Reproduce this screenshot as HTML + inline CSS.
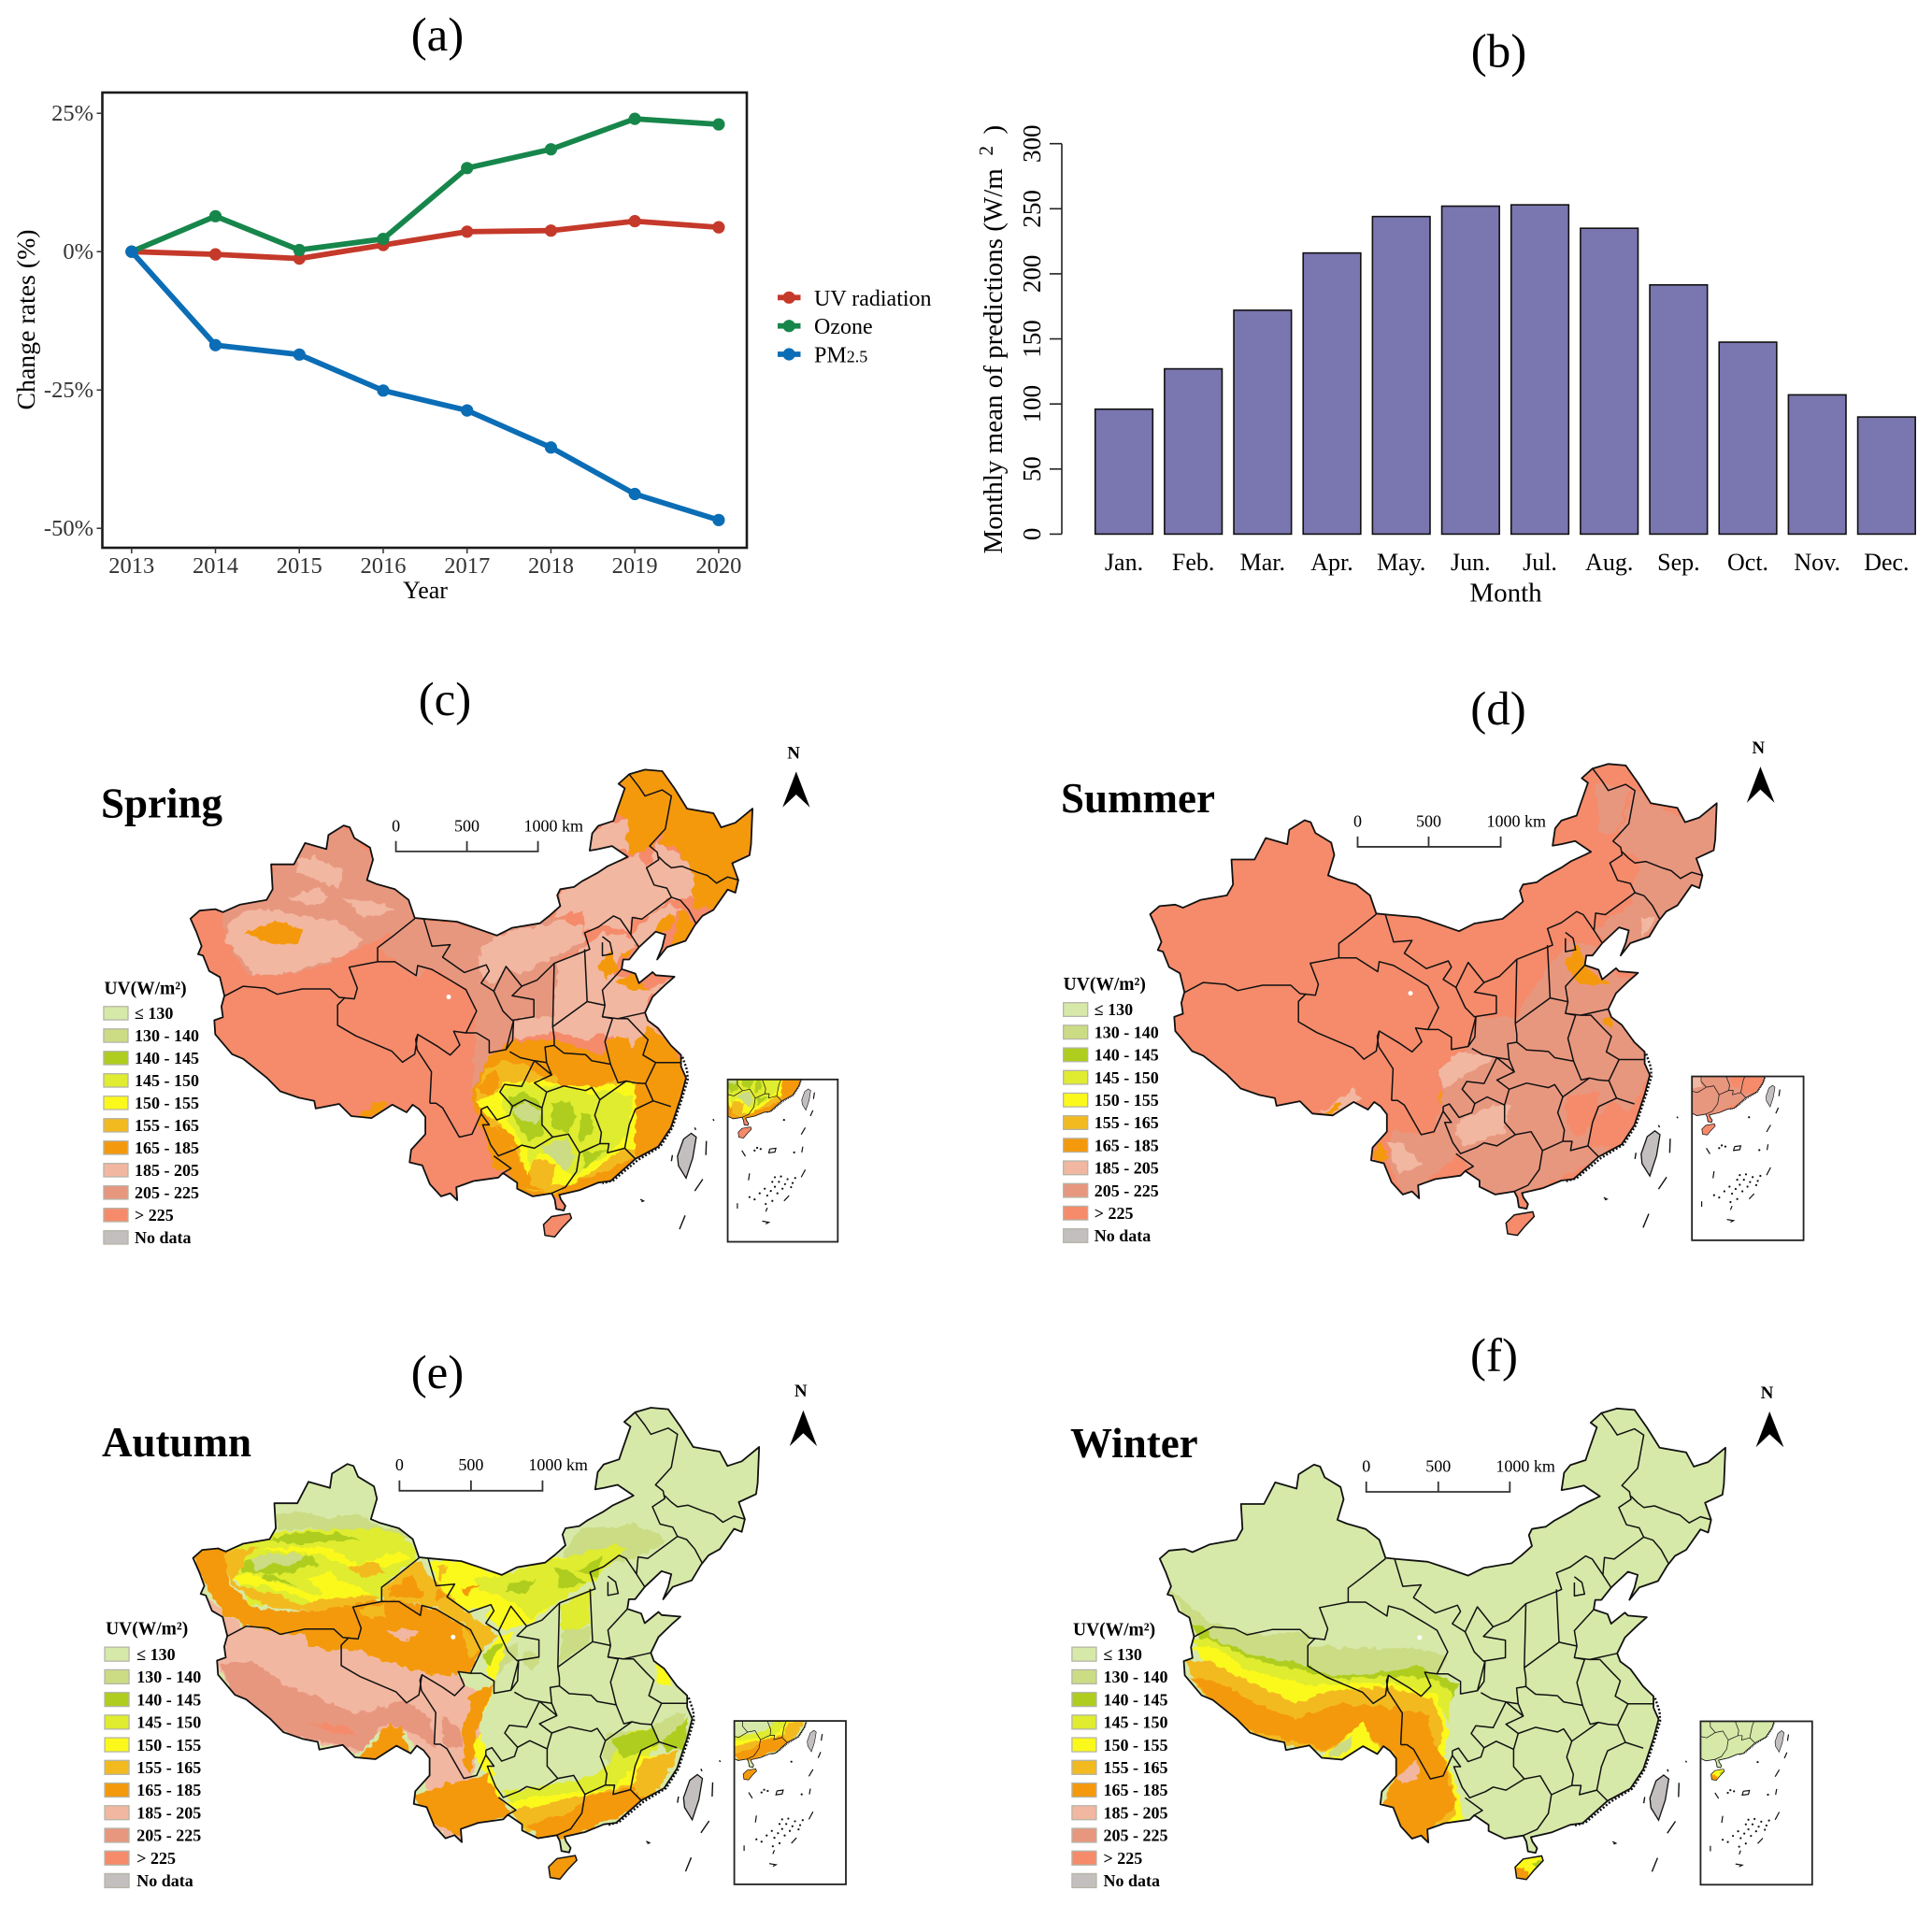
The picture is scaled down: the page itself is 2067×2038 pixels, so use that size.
<!DOCTYPE html>
<html lang="en">
<head>
<meta charset="utf-8">
<title>UV radiation trends and seasonal maps</title>
<style>
html,body{margin:0;padding:0;background:#fff}
svg{display:block}
text{font-family:"Liberation Serif",serif;fill:#000}
</style>
</head>
<body>
<svg id="fig" xmlns="http://www.w3.org/2000/svg" width="2067" height="2038" viewBox="0 0 2067 2038">
  <defs>
    <filter id="rough" x="-4%" y="-4%" width="108%" height="108%" color-interpolation-filters="sRGB">
      <feTurbulence type="fractalNoise" baseFrequency="0.11" numOctaves="2" seed="4" result="n"/>
      <feDisplacementMap in="SourceGraphic" in2="n" scale="9" xChannelSelector="R" yChannelSelector="G"/>
    </filter>
  </defs>
  <rect width="2067" height="2038" fill="#fff"/>

  <text x="468" y="54" font-size="51" text-anchor="middle">(a)</text>
  <text x="1603.5" y="71.5" font-size="51" text-anchor="middle">(b)</text>
  <text x="476" y="765" font-size="51" text-anchor="middle">(c)</text>
  <text x="1603" y="775" font-size="51" text-anchor="middle">(d)</text>
  <text x="468" y="1485" font-size="51" text-anchor="middle">(e)</text>
  <text x="1598.5" y="1467" font-size="51" text-anchor="middle">(f)</text>

  <g id="chart-a">
    <rect x="109.5" y="99" width="689.5" height="487" fill="#fff" stroke="#1a1a1a" stroke-width="2.6"/>
    <text x="455" y="640" font-size="26" text-anchor="middle">Year</text>
    <text transform="translate(37,342) rotate(-90)" font-size="27" text-anchor="middle" textLength="193" lengthAdjust="spacingAndGlyphs">Change rates (%)</text>
    <g>
      <text x="871" y="327" font-size="24">UV radiation</text>
      <text x="871" y="357" font-size="24">Ozone</text>
      <text x="871" y="387.5" font-size="24">PM<tspan font-size="18">2.5</tspan></text>
    </g>
  </g>

  <g id="chart-b">
    <text x="1611" y="643.5" font-size="29" text-anchor="middle">Month</text>
    <text transform="translate(1072,592.5) rotate(-90)" font-size="29">Monthly mean of predictions (W/m<tspan x="426" dy="-10" font-size="21">2</tspan><tspan x="449" dy="10">)</tspan></text>
  </g>

  <text x="108" y="874.5" font-size="45" font-weight="bold">Spring</text>
  <text x="1135" y="869" font-size="45" font-weight="bold">Summer</text>
  <text x="109" y="1558" font-size="45" font-weight="bold">Autumn</text>
  <text x="1145" y="1559" font-size="45" font-weight="bold">Winter</text>

  <g id="maps"></g>
</svg>

<script>
/* ---------- chart (a) data ---------- */
const years = [2013, 2014, 2015, 2016, 2017, 2018, 2019, 2020];
const uvRates = [0, -0.5, -1.25, 1.2, 3.6, 3.8, 5.5, 4.4];
const ozoneRates = [0, 6.4, 0.3, 2.3, 15.1, 18.5, 24.0, 23.0];
const pmRates = [0, -16.9, -18.6, -25.1, -28.7, -35.4, -43.8, -48.5];
const rateTicks = [25, 0, -25, -50];
const rateTickLabels = ['25%', '0%', '-25%', '-50%'];

/* ---------- chart (b) data ---------- */
const months = ['Jan.', 'Feb.', 'Mar.', 'Apr.', 'May.', 'Jun.', 'Jul.', 'Aug.', 'Sep.', 'Oct.', 'Nov.', 'Dec.'];
const monthlyMeans = [96, 127, 172, 216, 244, 252, 253, 235, 191.5, 147.5, 107, 90];
const meanTicks = [0, 50, 100, 150, 200, 250, 300];

/* ---------- map legend ---------- */
const legendLabels = ['≤ 130', '130 - 140', '140 - 145', '145 - 150', '150 - 155', '155 - 165', '165 - 185', '185 - 205', '205 - 225', '> 225', 'No data'];
const legendColors = ['#d7e9a9', '#cbdc84', '#aecd1e', '#dfec30', '#fbf91c', '#f3ba20', '#f4990c', '#f2b7a1', '#e8977f', '#f58b6b', '#c4bfbf'];

const NS = 'http://www.w3.org/2000/svg';
function mk(tag, attrs, parent) {
  const e = document.createElementNS(NS, tag);
  for (const k in attrs) e.setAttribute(k, attrs[k]);
  if (parent) parent.appendChild(e);
  return e;
}

/* ---------- draw chart (a) ---------- */
const chartA = document.getElementById('chart-a');
const xA = i => 140.8 + i * 89.73;
const yA = v => 269.2 - v * 5.92;
const seriesA = [
  { key: 'uv', values: uvRates, color: '#c5392a', legendY: 318.3 },
  { key: 'ozone', values: ozoneRates, color: '#17864b', legendY: 348.7 },
  { key: 'pm25', values: pmRates, color: '#0b6db5', legendY: 379 }
];
rateTicks.forEach((t, i) => {
  const tick = mk('line', { x1: 103.5, x2: 109.5, y1: yA(t), y2: yA(t), stroke: '#333', 'stroke-width': 1.5 }, chartA);
  
  
  const lab = mk('text', { x: 100, y: yA(t) + 8, 'font-size': 24.5, 'text-anchor': 'end', style: 'fill:#333' }, chartA);
  lab.textContent = rateTickLabels[i];
  
  
});
years.forEach((yr, i) => {
  const tick = mk('line', { x1: xA(i), x2: xA(i), y1: 586, y2: 592, stroke: '#333', 'stroke-width': 1.5 }, chartA);
  
  
  const lab = mk('text', { x: xA(i), y: 613, 'font-size': 24.5, 'text-anchor': 'middle', style: 'fill:#333' }, chartA);
  lab.textContent = yr;
  
  
});
seriesA.forEach(s => {
  const pts = s.values.map((v, i) => xA(i) + ',' + yA(v)).join(' ');
  const line = mk('polyline', { points: pts, fill: 'none', stroke: s.color, 'stroke-width': 5.8, 'stroke-linejoin': 'round' }, chartA);
  
  
  s.values.forEach((v, i) => {
    const dot = mk('circle', { cx: xA(i), cy: yA(v), r: 6.6, fill: s.color }, chartA);
    
    
  });
  const key = mk('line', { x1: 832, x2: 856.5, y1: s.legendY, y2: s.legendY, stroke: s.color, 'stroke-width': 5.8 }, chartA);
  
  
  const keyDot = mk('circle', { cx: 844.2, cy: s.legendY, r: 6.6, fill: s.color }, chartA);
  
  
});

/* ---------- draw chart (b) ---------- */
const chartB = document.getElementById('chart-b');
const xB = i => 1171.7 + i * 74.17;
const yB = v => 571.4 - v * (417.7 / 300);
const barWidth = 61.6;
const axisB = mk('line', { x1: 1136, x2: 1136, y1: yB(0), y2: yB(300), stroke: '#222', 'stroke-width': 1.6 }, chartB);


meanTicks.forEach(t => {
  const tick = mk('line', { x1: 1123, x2: 1136, y1: yB(t), y2: yB(t), stroke: '#222', 'stroke-width': 1.6 }, chartB);
  
  
  const lab = mk('text', { transform: 'translate(1113,' + yB(t) + ') rotate(-90)', 'font-size': 27, 'text-anchor': 'middle' }, chartB);
  lab.textContent = t;
  
  
});
months.forEach((m, i) => {
  const bar = mk('rect', { x: xB(i), y: yB(monthlyMeans[i]), width: barWidth, height: yB(0) - yB(monthlyMeans[i]), fill: '#7a76af', stroke: '#111', 'stroke-width': 1.6 }, chartB);
  
  
  const lab = mk('text', { x: xB(i) + barWidth / 2, y: 610, 'font-size': 26, 'text-anchor': 'middle' }, chartB);
  lab.textContent = m;
  
  
});

/* ---------- base map geometry ---------- */
const CHINA = '530,399 542,404 551,432 582,457 588,489 576,542 594,552 631,566 658,594 670,641 692,644 753,651 789,667 832,687 862,667 917,655 936,635 957,610 951,582 957,566 984,560 1000,545 1032,522 1050,506 1078,489 1090,481 1059,453 1032,461 1015,465 1020,420 1032,400 1062,387 1069,359 1084,302 1072,290 1093,265 1124,253 1158,257 1182,302 1207,355 1259,367 1274,404 1302,392 1336,355 1333,449 1330,477 1296,498 1308,542 1302,575 1287,567 1259,620 1237,636 1222,661 1204,701 1167,718 1148,750 1158,718 1164,685 1145,677 1112,718 1093,750 1081,750 1078,775 1105,787 1112,812 1139,783 1145,791 1182,795 1164,816 1139,848 1124,889 1130,910 1150,930 1175,975 1195,1000 1195,1030 1205,1060 1195,1110 1175,1190 1150,1240 1105,1272 1056,1330 1032,1334 995,1354 955,1366 958,1378 967,1395 964,1407 949,1403 946,1378 940,1362 903,1370 872,1350 872,1334 844,1309 835,1321 786,1330 752,1346 754,1380 740,1362 722,1370 700,1338 685,1289 660,1281 663,1248 691,1207 691,1162 679,1142 666,1130 654,1150 626,1130 585,1165 545,1160 521,1128 475,1140 472,1120 442,1112 405,1095 378,1059 332,1010 310,998 277,946 275,909 292,901 289,873 295,845 286,796 265,780 253,740 243,736 250,715 240,679 228,643 246,622 277,618 292,626 326,606 378,594 390,566 387,501 432,501 454,445 496,461 500,424';
const HAINAN = '924,1444 940,1423 976,1415 979,1427 961,1452 946,1476 927,1472';
const TAIWAN = '1215,1205 1225,1215 1218,1270 1205,1322 1190,1290 1188,1265 1200,1220';
const BORDERS = [
  '295,846 332,820 375,825 399,841 448,827 503,827 521,849 551,853 557,825 541,770 597,756 597,719 625,691 670,643',
  '688,644 704,715 740,711 725,744 768,784 811,764 817,780 801,812 826,833 850,768 881,820 911,804 945,760 1015,723 1005,680 1032,665 1062,636 1075,644 1096,685',
  '1096,685 1112,718',
  '1096,685 1099,640 1118,644 1176,587 1167,563 1142,555 1127,510 1151,489 1148,469 1133,453 1164,408 1176,322 1158,306 1124,322 1112,298 1093,265',
  '1151,481 1164,498 1176,510 1197,506 1228,522 1247,530 1265,550 1287,534 1308,542',
  '1176,587 1194,595 1210,620 1225,657',
  '597,756 631,756 673,792 676,766 704,776 740,804 771,829 792,885 771,942 747,938 759,974 740,1000 716,978 676,946 670,998 646,1019 625,990 554,950 518,922 518,869 533,849',
  '676,946 672,960 675,987 703,1044 700,1126',
  '771,942 792,942 817,962 817,994 850,986 865,909',
  '700,1126 712,1126 725,1138 758,1215 783,1207 801,1154 801,1142',
  '801,1154 817,1183 804,1183 820,1236 835,1264 866,1248 881,1236 906,1244 942,1215 973,1207 995,1256 989,1305 967,1346 940,1362',
  '826,1264 860,1297 844,1309',
  '801,1142 813,1135 832,1170 857,1158 863,1134 838,1097 847,1077 881,1082 906,1015 878,1007 857,991',
  '863,1134 887,1117 921,1138 930,1097 906,1073 940,1052 906,1015',
  '921,1138 921,1183 942,1215',
  '930,1097 964,1081 1007,1093 1019,1085 1035,1117 1025,1158 1038,1203 1035,1232 995,1256',
  '1035,1232 1053,1232 1050,1256 1084,1244 1105,1272',
  '1084,1244 1093,1183 1105,1142 1140,1120',
  '1035,1117 1087,1068 1105,1073 1125,1075',
  '940,1052 930,1020 927,979 945,975 964,995 1007,999 1019,1015 1056,1024 1071,1073 1087,1068',
  '906,1015 930,1020',
  '945,760 942,926 945,954 945,975',
  '826,833 844,885 862,909 865,909 863,962 850,986',
  '881,820 862,845 905,855 905,900 862,909',
  '1005,723 1010,860 942,926',
  '1010,860 1045,870 1040,900 1060,905 1045,965 1056,1024',
  '1040,900 1070,905 1090,905 1115,940 1130,960 1120,1000 1145,1020 1125,1075',
  '1070,905 1124,889',
  '1045,870 1040,830 1078,775',
  '1040,690 1055,705 1060,735 1040,740 1040,705',
  '1145,1020 1195,1020',
  '1125,1075 1140,1120 1175,1135'
];
const SEA_DASHES = ['1245,1225 1244,1262', '1238,1325 1222,1356', '1203,1420 1192,1456', '1178,1262 1176,1278', '1222,1190 1224,1196', '1258,1168 1260,1172', '1115,1378 1121,1382 1117,1384'];
const COAST_ISLES = '1198,1005 1207,1040 1208,1065 1198,1110 1178,1190 1154,1240 1110,1275 1062,1328 1040,1336';
const INSET_DASHES = ['1458,1098 1456,1115', '1455,1145 1450,1160', '1440,1190 1432,1208', '1435,1240 1433,1255', '1315,1250 1322,1265', '1330,1310 1328,1328', '1440,1300 1432,1320', '1408,1368 1398,1382', '1306,1388 1306,1402', '1365,1400 1362,1410', '1355,1435 1368,1438 1362,1442', '1370,1246 1382,1244 1380,1254 1368,1256 1370,1246'];
const INSET_DOTS = ['1345,1243', '1352,1246', '1340,1250', '1398,1170', '1418,1255', '1380,1320', '1392,1318', '1405,1325', '1420,1322', '1375,1332', '1388,1332', '1400,1338', '1415,1335', '1380,1345', '1395,1350', '1412,1346', '1360,1350', '1372,1356', '1350,1362', '1365,1368', '1385,1362', '1330,1372', '1340,1378', '1375,1382', '1362,1390'];

/* ---------- per-panel layout and coloured climate zones (legend index, polygon, optional crop origin) ---------- */
const CROP_SC = [420, 1080];
const CROP_NE = [640, 810];
const CROP_NW = [200, 1560];
const PANELS = [
  { id: 'spring', ox: 80, oy: 720, sy: 2.447, L: 204.8, T: 823.4, ax: 1, ay: 1, base: 9, hainan: 9,
    legend: { x: 57, y0: 873, h: 35, dy: 58.7, tx: 118, tyX: 58, ty: 840 },
    bar: { x: [633, 773, 913], y: 467, top: 440, label: 415 },
    north: { x: 1417, y: 224, a: [1422, 258, 1395, 352, 1422, 318, 1449, 352] },
    inset: [1287, 1064, 1504, 1489], insetHainan: [1320, 1205],
    zones: [
      [8, '290,600 380,585 390,495 430,495 455,440 530,395 590,490 585,545 650,570 672,640 790,665 830,690 900,650 950,640 1000,680 1005,720 950,750 945,900 860,960 830,990 790,960 790,870 770,830 730,790 690,770 680,800 640,765 600,720 625,680 560,720 480,770 400,790 340,790 300,700 290,650'],
      [8, '790,960 830,990 800,1050 780,1100 775,1130 785,1060'],
      [7, '300,660 340,620 400,620 470,640 520,650 570,700 530,740 470,765 400,790 350,790 330,740 300,710'],
      [7, '440,490 470,480 530,520 520,560 470,540 440,520'],
      [7, '420,590 480,560 500,590 470,610'],
      [7, '530,590 600,600 630,620 570,640'],
      [7, '800,720 850,680 960,650 1000,660 1005,700 950,740 880,790 850,770 820,820 800,790'],
      [7, '950,640 960,570 1000,545 1040,505 1090,488 1110,470 1130,510 1170,560 1175,590 1130,640 1100,640 1090,680 1040,660 1005,680 1000,620'],
      [7, '1015,465 1020,420 1050,390 1095,385 1095,470 1060,455'],
      [7, '1130,510 1150,440 1180,470 1225,510 1225,590 1200,590 1175,590 1170,560'],
      [7, '1005,720 1040,680 1100,690 1110,720 1075,740 1060,790 1090,800 1130,850 1130,900 1160,950 1140,970 1100,980 1040,940 1010,960 950,940 870,960 865,910 905,900 945,900 950,760'],
      [7, '1100,680 1130,640 1175,600 1195,620 1160,680 1120,715 1095,700'],
      [7, '1040,830 1075,810 1130,830 1185,795 1130,850 1125,890 1070,905 1040,890'],
      [6, '65,85 100,55 150,40 205,45 285,165 370,180 395,225 495,165 490,300 430,340 450,395 440,435 370,490 340,480 310,490 300,430 310,370 270,320 240,290 200,280 215,240 170,290 110,310 90,280 100,220 60,175 85,100', CROP_NE],
      [6, '190,530 230,500 245,510 240,540 210,560 180,560', CROP_NE],
      [6, '250,530 270,490 310,530 280,590 230,610 250,570', CROP_NE],
      [6, '70,625 110,620 100,640 80,650', CROP_NE],
      [6, '0,670 40,620 60,680 30,710', CROP_NE],
      [6, '55,720 120,695 130,730 170,750 100,740', CROP_NE],
      [6, '820,1000 860,965 950,960 1040,1000 1050,960 1090,950 1100,985 1130,920 1165,960 1200,1020 1210,1060 1200,1110 1180,1190 1150,1240 1115,1280 1060,1325 1000,1360 950,1370 880,1370 865,1340 850,1300 825,1300 815,1230 790,1150 780,1100 800,1050'],
      [6, '335,680 400,650 450,670 440,710 380,710'],
      [6, '555,1165 590,1125 620,1125 590,1160 565,1170'],
      [5, '265,260 300,190 350,165 440,180 470,215 520,210 530,240 660,250 700,230 780,230 780,470 680,520 600,550 520,590 450,590 420,570 405,470 330,380 290,330', CROP_SC],
      [6, '270,250 330,190 345,250 310,280', CROP_SC],
      [6, '330,370 400,390 410,450 360,430', CROP_SC],
      [6, '400,490 440,490 450,560 500,590 420,570', CROP_SC],
      [4, '270,290 340,270 355,235 470,225 530,240 660,250 690,240 780,240 780,440 700,470 640,520 560,570 510,560 530,500 450,480 440,540 410,480 410,440 350,370 300,340', CROP_SC],
      [3, '350,260 430,230 480,250 530,245 640,270 700,260 770,280 760,400 690,460 620,510 570,540 540,470 470,460 440,500 430,450 370,360 350,300', CROP_SC],
      [2, '370,280 430,265 470,300 485,395 440,420 400,370', CROP_SC],
      [2, '510,300 570,290 590,350 560,400 510,370', CROP_SC],
      [2, '600,330 640,340 640,400 600,420', CROP_SC],
      [2, '610,460 690,450 620,510', CROP_SC],
      [1, '380,320 430,295 480,330 460,370 410,350', CROP_SC],
      [1, '470,440 560,410 590,470 560,520 510,480', CROP_SC]
    ] },
  { id: 'summer', ox: 1110, oy: 720, sy: 2.447, L: 1231.6, T: 817.3, ax: 1.00797, ay: 1.00896, base: 9, hainan: 9,
    legend: { x: 51, y0: 863, h: 36, dy: 59.2, tx: 112, tyX: 51, ty: 830 },
    bar: { x: [631, 771, 913], y: 455, top: 428, label: 403 },
    north: { x: 1421, y: 211, a: [1425, 245, 1398, 340, 1425, 305, 1453, 340] },
    inset: [1290, 1056, 1510, 1485], insetHainan: [1322, 1197],
    zones: [
      [8, '1140,450 1175,300 1215,345 1250,365 1290,390 1345,340 1330,480 1310,500 1320,560 1280,590 1240,640 1200,690 1150,740 1100,680 1130,640 1175,600 1170,570 1190,490'],
      [8, '1100,290 1170,300 1140,420 1110,420'],
      [8, '850,980 870,900 945,900 1000,780 1050,700 1100,720 1150,800 1180,800 1125,880 1200,1000 1205,1060 1115,1270 1000,1340 950,1365 880,1360 830,1260 760,1340 755,1380 720,1360 690,1280 700,1200 780,1210 800,1100 790,1050'],
      [9, '1090,1180 1130,1120 1170,1150 1130,1240 1090,1240'],
      [9, '1040,1110 1110,1090 1100,1170 1060,1220 1045,1180'],
      [7, '790,1040 830,990 900,1010 860,1040 800,1090'],
      [7, '820,1180 900,1130 930,1130 920,1200 840,1240'],
      [7, '690,1230 720,1230 760,1290 710,1310'],
      [7, '560,1150 620,1090 640,1120 580,1160'],
      [7, '1190,640 1220,640 1190,690'],
      [6, '1040,760 1065,710 1080,770 1100,790 1130,815 1070,815'],
      [6, '1115,905 1130,900 1135,930 1120,925'],
      [6, '660,1250 680,1230 690,1270 665,1275'],
      [6, '565,1155 590,1125 600,1130 580,1155'],
      [6, '790,1090 800,1130 790,1120']
    ] },
  { id: 'autumn', ox: 80, oy: 1420, sy: 2.534, L: 207.6, T: 1506, ax: 1.00714, ay: 1.00896, base: 0, hainan: 6,
    legend: { x: 59, y0: 867, h: 38, dy: 61.4, tx: 122, tyX: 61, ty: 832 },
    bar: { x: [640, 781, 922], y: 443, top: 415, label: 388 },
    north: { x: 1431, y: 188, a: [1436, 225, 1409, 322, 1436, 287, 1463, 322] },
    inset: [1300, 1067, 1520, 1510], insetHainan: [1330, 1214],
    zones: [
      [1, '285,180 360,170 450,190 540,180 600,210 680,230 720,260 690,250 600,240 480,235 380,225 290,235', CROP_NW],
      [3, '270,240 400,230 620,225 700,250 740,320 650,390 620,450 390,490 200,470 130,300 180,280', CROP_NW],
      [2, '260,260 350,240 480,240 560,265 420,270 340,275', CROP_NW],
      [2, '170,340 230,320 400,310 420,340 320,370 230,370 180,365', CROP_NW],
      [2, '260,370 360,410 300,400 240,385', CROP_NW],
      [1, '210,325 260,305 380,310 340,345 260,340 220,365', CROP_NW],
      [4, '150,380 190,370 360,420 420,440 500,390 560,420 600,450 420,470 370,450 250,410 170,405', CROP_NW],
      [4, '380,390 460,360 490,400 440,430', CROP_NW],
      [4, '230,290 450,285 550,340 680,300 720,320 640,350 540,360 440,310 300,300', CROP_NW],
      [5, '130,300 230,285 190,320 170,360 150,390 170,410 300,440 370,470 460,450 620,440 600,470 400,490 260,480 160,420 120,360', CROP_NW],
      [5, '520,350 600,330 640,370 560,380', CROP_NW],
      [7, '690,1150 770,1080 790,1000 800,1100 785,1230 700,1260 680,1200'],
      [7, '60,440 120,500 190,540 260,545 290,565 380,565 390,600 470,620 500,610 560,620 630,650 730,680 830,700 870,690 900,730 960,760 920,860 890,960 760,960 700,880 600,880 540,950 310,880 150,760 90,650 120,600', CROP_NW],
      [8, '105,660 210,650 320,730 450,780 550,820 700,780 780,830 800,930 720,880 640,850 560,940 430,910 310,880 150,760', CROP_NW],
      [8, '820,830 880,870 880,930 820,920', CROP_NW],
      [9, '380,850 520,860 540,890 470,880', CROP_NW],
      [6, '560,950 600,910 650,850 700,890 640,920 600,960', CROP_NW],
      [6, '550,1175 600,1110 640,1080 660,1150 610,1170'],
      [6, '20,320 50,295 100,290 130,300 120,360 150,420 220,480 300,490 400,490 530,470 630,455 700,465 800,485 860,520 910,550 945,610 910,690 870,690 830,700 780,690 730,680 630,650 560,620 500,610 470,620 390,600 380,565 290,565 260,545 190,535 120,500 70,430', CROP_NW],
      [7, '640,555 750,550 740,575 690,585', CROP_NW],
      [5, '550,480 640,470 640,510 570,510', CROP_NW],
      [5, '880,530 945,610 910,640 890,590', CROP_NW],
      [5, '630,455 630,420 670,385 745,325 790,390 850,450 940,530 1000,570 960,600 940,620 900,540 800,480 700,465', CROP_NW],
      [6, '650,420 720,370 760,440 740,450 650,445', CROP_NW],
      [6, '800,420 840,440 800,460', CROP_NW],
      [4, '780,330 880,330 940,350 1010,375 1180,315 1290,330 1280,410 1190,460 1090,540 1000,550 980,520 960,520 980,470 900,490 850,450 800,400', CROP_NW],
      [3, '1010,375 1180,320 1290,330 1280,410 1190,460 1100,520 1070,480 1000,440 940,420 920,390', CROP_NW],
      [2, '1180,350 1280,340 1280,400 1200,420', CROP_NW],
      [2, '1040,400 1120,390 1090,430 1020,430', CROP_NW],
      [6, '880,420 940,400 900,440', CROP_NW],
      [5, '800,340 840,350 810,400', CROP_NW],
      [1, '960,620 1000,540 1070,540 1100,530 1170,580 1100,630 1020,650'],
      [3, '980,620 1060,590 1090,600 1040,660 1020,700 950,640'],
      [2, '990,660 1040,620 1030,680'],
      [3, '1200,470 1300,420 1290,530 1230,560 1200,550', CROP_NW],
      [1, '1190,660 1210,550 1290,540 1290,600', CROP_NW],
      [4, '960,620 1000,570 1050,560 1020,620 980,720 960,680', CROP_NW],
      [2, '945,630 1000,590 1020,590 990,640 970,670', CROP_NW],
      [1, '990,700 1020,610 1060,590 1060,640 1030,660', CROP_NW],
      [6, '960,735 975,740 950,810 920,900 890,950 880,900 910,790 900,770', CROP_NW],
      [4, '985,740 960,800 925,860 930,960 900,960 910,850 945,790', CROP_NW],
      [1, '1090,620 1140,640 1110,680 1080,660', CROP_NW],
      [6, '800,1000 830,960 800,1060 790,1100 782,1215 765,1190 775,1100 790,1000'],
      [4, '800,1100 815,1170 825,1210 840,1275 825,1265 800,1190 785,1130'],
      [6, '670,1270 750,1230 780,1230 810,1210 830,1260 860,1320 800,1350 765,1370 760,1400 700,1350'],
      [7, '700,1340 760,1380 765,1400 720,1370'],
      [1, '1050,1100 1140,1090 1130,1150 1060,1200 1040,1160'],
      [1, '1140,1080 1200,1040 1210,1100 1190,1150 1150,1130'],
      [3, '840,1260 940,1240 1030,1210 1060,1170 1090,1100 1140,1080 1150,1140 1100,1190 1090,1260 1000,1280 880,1310'],
      [2, '1060,1120 1140,1080 1150,1130 1080,1170'],
      [2, '1160,1120 1210,1060 1200,1140 1170,1150'],
      [4, '850,1290 920,1270 1000,1260 1060,1250 1095,1200 1110,1160 1190,1160 1120,1240 1000,1280 880,1310'],
      [5, '860,1310 1000,1270 1100,1240 1120,1170 1190,1150 1170,1210 1130,1290 1080,1270 1000,1320 950,1370 890,1370'],
      [6, '890,1350 980,1310 1010,1270 1100,1250 1130,1290 1050,1340 970,1385 920,1390'],
      [4, '1145,910 1170,930 1175,970 1150,965']
    ] },
  { id: 'winter', ox: 1110, oy: 1420, sy: 2.534, L: 1241.9, T: 1506.8, ax: 1.00631, ay: 1.00817, base: 0, hainan: 4,
    legend: { x: 68, y0: 867, h: 38, dy: 61.4, tx: 130, tyX: 70, ty: 835 },
    bar: { x: [648, 790, 931], y: 446, top: 418, label: 391 },
    north: { x: 1438, y: 192, a: [1443, 228, 1416, 325, 1443, 290, 1471, 325] },
    inset: [1307, 1068, 1527, 1511], insetHainan: [1340, 1215],
    zones: [
      [1, '250,700 280,730 340,800 430,835 530,825 540,860 600,870 740,870 810,890 790,945 560,945 530,920 420,890 330,840 300,790'],
      [2, '305,800 335,820 340,840 430,890 530,915 580,945 640,945 745,915 790,945 830,970 815,1010 800,985 740,950 600,960 530,945 420,915 340,860 315,840'],
      [3, '300,850 335,840 420,900 530,935 600,955 740,945 790,960 815,990 810,1070 790,1020 740,980 600,985 530,1010 430,960'],
      [4, '305,870 340,860 410,925 530,970 600,965 700,965 790,1000 810,1100 800,1160 820,1210 840,1330 800,1350 700,1200 600,1100 430,1040'],
      [5, '290,900 340,905 420,965 510,1020 580,985 690,975 780,1010 800,1090 790,1150 815,1210 825,1320 800,1350 700,1340 680,1295 710,1200 430,1110 370,1040 310,970'],
      [6, '300,950 350,960 430,1020 510,1060 600,1020 700,1030 770,1050 775,1110 800,1160 810,1230 825,1300 790,1340 770,1360 770,1400 730,1390 700,1340 680,1295 710,1210 700,1150 680,1150 640,1070 570,1150 530,1130 430,1100 370,1040'],
      [4, '555,1175 600,1120 640,1070 680,1160 640,1160'],
      [1, '570,1170 590,1130 625,1110 610,1150'],
      [7, '710,1220 750,1170 755,1210 720,1240'],
      [6, '940,1470 960,1460 970,1495 950,1502'],
      [2, '975,1450 1000,1440 985,1465']
    ] }
];

/* ---------- draw the maps ---------- */
const mapsRoot = document.getElementById('maps');
const ZX = 1.8424;
const parsePts = s => s.trim().split(/\s+/).map(p => p.split(',').map(Number));
const panelPx = (p, x, y) => [p.ox + x / ZX, p.oy + y / p.sy];
const basePx = (p, x, y) => {
  const sx = 80 + x / ZX, sy = 720 + y / 2.447;
  return [p.L + p.ax * (sx - 204.8), p.T + p.ay * (sy - 823.4)];
};
const ptsStr = (s, fn) => parsePts(s).map(q => fn(q[0], q[1]).map(n => n.toFixed(1)).join(',')).join(' ');

PANELS.forEach(p => {
  const toBase = (x, y) => basePx(p, x, y);
  const toPanel = (x, y) => panelPx(p, x, y);
  const panel = mk('g', {}, mapsRoot);
  
  

  const chinaPts = ptsStr(CHINA, toBase);
  const hainanPts = ptsStr(HAINAN, toBase);
  const taiwanPts = ptsStr(TAIWAN, toBase);

  const clip = mk('clipPath', { id: 'clip-' + p.id }, panel);
  mk('polygon', { points: chinaPts }, clip);
  mk('polygon', { points: hainanPts }, clip);

  const land = mk('g', { id: 'land-' + p.id }, panel);
  
  

  const baseFill = mk('polygon', { points: chinaPts, fill: legendColors[p.base] }, land);
  
  
  const hainanFill = mk('polygon', { points: hainanPts, fill: legendColors[p.hainan] }, land);
  
  

  const clipG = mk('g', { 'clip-path': 'url(#clip-' + p.id + ')' }, land);
  const zoneG = mk('g', { filter: 'url(#rough)' }, clipG);
  
  
  p.zones.forEach(z => {
    const fn = z[2] ? (x, y) => [z[2][0] + x / 3, z[2][1] + y / 3] : toPanel;
    const zone = mk('polygon', { points: ptsStr(z[1], fn), fill: legendColors[z[0]] }, zoneG);
    
    
  });

  const lake = mk('circle', { cx: toBase(737, 848)[0], cy: toBase(737, 848)[1], r: 2.5, fill: '#fff' }, land);
  
  

  BORDERS.forEach(b => {
    const border = mk('polyline', { points: ptsStr(b, toBase), fill: 'none', stroke: '#111', 'stroke-width': 1.5, 'stroke-linejoin': 'round' }, land);
    
    
  });

  const outline = mk('polygon', { points: chinaPts, fill: 'none', stroke: '#111', 'stroke-width': 1.8, 'stroke-linejoin': 'round' }, land);
  
  
  const hainanLine = mk('polygon', { points: hainanPts, fill: 'none', stroke: '#111', 'stroke-width': 1.5 }, land);
  
  
  const coast = mk('polyline', { points: ptsStr(COAST_ISLES, toBase), fill: 'none', stroke: '#111', 'stroke-width': 2.4, 'stroke-dasharray': '2 2' }, land);
  
  
  const taiwan = mk('polygon', { points: taiwanPts, fill: legendColors[10], stroke: '#111', 'stroke-width': 1.3 }, land);
  
  

  SEA_DASHES.forEach(d => {
    const dash = mk('polyline', { points: ptsStr(d, toBase), fill: 'none', stroke: '#111', 'stroke-width': 1.4 }, panel);
    
    
  });

  /* inset */
  const i0 = toPanel(p.inset[0], p.inset[1]);
  const i1 = toPanel(p.inset[2], p.inset[3]);
  const insetW = i1[0] - i0[0], insetH = i1[1] - i0[1];
  const inset = mk('g', {}, panel);
  
  
  const insetBg = mk('rect', { x: i0[0], y: i0[1], width: insetW, height: insetH, fill: '#fff' }, inset);
  
  
  const insetClip = mk('clipPath', { id: 'inset-clip-' + p.id }, inset);
  mk('rect', { x: i0[0], y: i0[1], width: insetW, height: insetH }, insetClip);
  const insetG = mk('g', { 'clip-path': 'url(#inset-clip-' + p.id + ')' }, inset);
  const hMain = toBase(950, 1450);
  const hInset = toPanel(p.insetHainan[0], p.insetHainan[1]);
  const k = 0.475;
  const insetLand = mk('use', { href: '#land-' + p.id, transform: 'translate(' + (hInset[0] - k * hMain[0]) + ',' + (hInset[1] - k * hMain[1]) + ') scale(' + k + ')' }, insetG);
  
  
  const kx = insetW / (217 / ZX), ky = insetH / (425 / 2.447);
  const toInset = (x, y) => [i0[0] + (x - 1287) / ZX * kx, i0[1] + (y - 1064) / 2.447 * ky];
  INSET_DASHES.forEach(d => {
    const dash = mk('polyline', { points: ptsStr(d, toInset), fill: 'none', stroke: '#111', 'stroke-width': 1.2 }, inset);
    
    
  });
  INSET_DOTS.forEach(d => {
    const q = parsePts(d)[0];
    const c = toInset(q[0], q[1]);
    const dot = mk('circle', { cx: c[0], cy: c[1], r: 1.1, fill: '#111' }, inset);
    
    
  });
  const insetFrame = mk('rect', { x: i0[0], y: i0[1], width: insetW, height: insetH, fill: 'none', stroke: '#222', 'stroke-width': 1.8 }, inset);
  
  

  /* legend */
  const lg = mk('g', {}, panel);
  
  
  const tp = toPanel(p.legend.tyX, p.legend.ty);
  const title = mk('text', { x: tp[0], y: tp[1], 'font-size': 19.5, 'font-weight': 'bold' }, lg);
  title.textContent = 'UV(W/m²)';
  
  
  legendLabels.forEach((label, i) => {
    const a = toPanel(p.legend.x, p.legend.y0 + i * p.legend.dy);
    const b = toPanel(p.legend.x + 48, p.legend.y0 + i * p.legend.dy + p.legend.h);
    const sw = mk('rect', { x: a[0], y: a[1], width: b[0] - a[0], height: b[1] - a[1], fill: legendColors[i], stroke: '#b5b5a8', 'stroke-width': 1.3 }, lg);
    
    
    const tx = toPanel(p.legend.tx, 0)[0];
    const t = mk('text', { x: tx, y: (a[1] + b[1]) / 2 + 6.2, 'font-size': 18, 'font-weight': 'bold' }, lg);
    t.textContent = label;
    
    
  });

  /* scale bar */
  const sb = mk('g', {}, panel);
  
  
  const sbY = toPanel(0, p.bar.y)[1], sbTop = toPanel(0, p.bar.top)[1], sbLab = toPanel(0, p.bar.label)[1];
  const sbX = p.bar.x.map(x => toPanel(x, 0)[0]);
  const sbLine = mk('polyline', { points: sbX[0] + ',' + sbTop + ' ' + sbX[0] + ',' + sbY + ' ' + sbX[2] + ',' + sbY + ' ' + sbX[2] + ',' + sbTop, fill: 'none', stroke: '#333', 'stroke-width': 1.8 }, sb);
  
  
  const sbMid = mk('line', { x1: sbX[1], x2: sbX[1], y1: sbTop, y2: sbY, stroke: '#333', 'stroke-width': 1.8 }, sb);
  
  
  const l0 = mk('text', { x: sbX[0], y: sbLab, 'font-size': 18, 'text-anchor': 'middle' }, sb);
  l0.textContent = '0';
  
  
  const l1 = mk('text', { x: sbX[1], y: sbLab, 'font-size': 18, 'text-anchor': 'middle' }, sb);
  l1.textContent = '500';
  
  
  const l2 = mk('text', { x: sbX[2] - 15, y: sbLab, 'font-size': 18 }, sb);
  l2.textContent = '1000 km';
  
  

  /* north arrow */
  const np = toPanel(p.north.x, p.north.y);
  const nText = mk('text', { x: np[0], y: np[1], 'font-size': 19, 'font-weight': 'bold', 'text-anchor': 'middle' }, panel);
  nText.textContent = 'N';
  
  
  const a = p.north.a;
  const arrowPts = [0, 2, 4, 6].map(j => toPanel(a[j], a[j + 1]).map(n => n.toFixed(1)).join(',')).join(' ');
  const arrow = mk('polygon', { points: arrowPts, fill: '#000' }, panel);
  
  
});
</script>
</body>
</html>
